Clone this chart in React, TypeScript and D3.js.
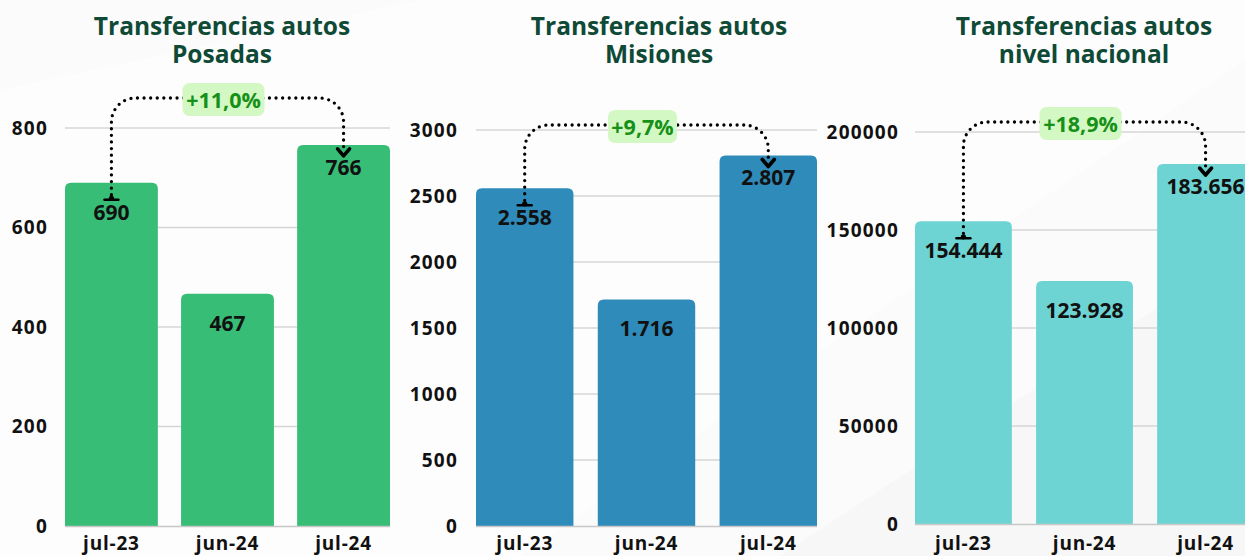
import * as d3 from "d3";

// data
const periods = ["jul-23", "jun-24", "jul-24"];
const posadas = [690, 467, 766];
const misiones = [2558, 1716, 2807];
const nacional = [154444, 123928, 183656];
const titles = [
  ["Transferencias autos", "Posadas"],
  ["Transferencias autos", "Misiones"],
  ["Transferencias autos", "nivel nacional"],
];
const posadasTicks = [0, 200, 400, 600, 800];
const misionesTicks = [0, 500, 1000, 1500, 2000, 2500, 3000];
const nacionalTicks = [0, 50000, 100000, 150000, 200000];

const W = 1245;
const H = 556;
const FONT = "'Open Sans', 'DejaVu Sans', sans-serif";

const loc = d3.formatLocale({ decimal: ",", thousands: ".", grouping: [3], currency: ["", ""] });
const fmt = loc.format(",");
const pct = loc.format("+.1f");

// layout of the three panels
const panels = [
  { values: posadas, ticks: posadasTicks, title: titles[0], color: "#37bd76", x0: 65, x1: 390, y0: 526, y1: 128, tickX: 48, titleX: 222, arrowY: 98 },
  { values: misiones, ticks: misionesTicks, title: titles[1], color: "#2e8bba", x0: 476, x1: 817, y0: 526, y1: 130, tickX: 458, titleX: 659, arrowY: 125 },
  { values: nacional, ticks: nacionalTicks, title: titles[2], color: "#6dd4d3", x0: 915, x1: 1254, y0: 524, y1: 132, tickX: 899, titleX: 1084, arrowY: 122 },
];

function barPath(x: number, y: number, w: number, h: number, r: number) {
  return `M${x},${y + h}V${y + r}Q${x},${y} ${x + r},${y}H${x + w - r}Q${x + w},${y} ${x + w},${y + r}V${y + h}Z`;
}

function Panel({ p }: { p: (typeof panels)[number] }) {
  const top = p.ticks[p.ticks.length - 1];
  const y = d3.scaleLinear().domain([0, top]).range([p.y0, p.y1]);
  const x = d3.scaleBand().domain(periods).range([p.x0, p.x1]).paddingInner(0.2).paddingOuter(0);
  const bw = x.bandwidth();

  const first = p.values[0];
  const last = p.values[p.values.length - 1];
  const xa = x(periods[0])! + bw / 2;
  const xb = x(periods[periods.length - 1])! + bw / 2;
  const startY = y(first) + 17;
  const tipY = y(last) + 11;
  const r = 24;
  const path = d3.path();
  path.moveTo(xa, startY - 5);
  path.lineTo(xa, p.arrowY + r);
  path.arcTo(xa, p.arrowY, xa + r, p.arrowY, r);
  path.lineTo(xb - r, p.arrowY);
  path.arcTo(xb, p.arrowY, xb, p.arrowY + r, r);
  path.lineTo(xb, tipY - 3);

  const change = pct((last / first - 1) * 100) + "%";
  const badgeW = change.length * 13 + 4;
  const badgeX = (xa + xb) / 2 - 4;

  return (
    <g>
      <text x={p.titleX} y={35} textAnchor="middle" fontFamily={FONT} fontWeight={700} fontSize={24.5} fill="#0e4a36">
        {p.title[0]}
      </text>
      <text x={p.titleX} y={63} textAnchor="middle" fontFamily={FONT} fontWeight={700} fontSize={24.5} fill="#0e4a36">
        {p.title[1]}
      </text>

      {p.ticks.map((t) => (
        <g key={t}>
          {t > 0 && <line x1={p.x0} x2={p.x1} y1={y(t)} y2={y(t)} stroke="#d6d6d6" strokeWidth={1.5} />}
          <text x={p.tickX} y={y(t)} dy="0.36em" textAnchor="end" fontFamily={FONT} fontWeight={700} fontSize={19} letterSpacing={1.2} fill="#111">
            {t}
          </text>
        </g>
      ))}

      {p.values.map((v, i) => (
        <path key={i} d={barPath(x(periods[i])!, y(v), bw, y(0) - y(v), 6)} fill={p.color} />
      ))}
      <line x1={p.x0} x2={p.x1} y1={y(0) + 0.5} y2={y(0) + 0.5} stroke="#c8c8c8" strokeWidth={1.5} />

      {p.values.map((v, i) => (
        <text
          key={i}
          x={x(periods[i])! + bw / 2}
          y={y(v) + (i === p.values.length - 1 ? 30 : 37)}
          textAnchor="middle"
          fontFamily={FONT}
          fontWeight={700}
          fontSize={21}
          fill="#111"
        >
          {fmt(v)}
        </text>
      ))}

      {periods.map((c) => (
        <text key={c} x={x(c)! + bw / 2} y={550} textAnchor="middle" fontFamily={FONT} fontWeight={700} fontSize={19} letterSpacing={0.8} fill="#111">
          {c}
        </text>
      ))}

      <path d={path.toString()} fill="none" stroke="#000" strokeWidth={3.3} strokeDasharray="0 6.6" strokeLinecap="round" />
      <line x1={xa - 7} x2={xa + 7} y1={startY} y2={startY} stroke="#000" strokeWidth={2.5} strokeLinecap="round" />
      <circle cx={xa} cy={startY - 1.5} r={2.6} fill="#000" />
      <polyline
        points={`${xb - 6},${tipY - 7} ${xb},${tipY} ${xb + 6},${tipY - 7}`}
        fill="none"
        stroke="#000"
        strokeWidth={3.6}
        strokeLinecap="round"
        strokeLinejoin="round"
      />

      <rect x={badgeX - badgeW / 2} y={p.arrowY - 15} width={badgeW} height={33} rx={7} fill="#d4f8c3" />
      <text x={badgeX} y={p.arrowY + 2} dy="0.36em" textAnchor="middle" fontFamily={FONT} fontWeight={700} fontSize={21.5} fill="#159018">
        {change}
      </text>
    </g>
  );
}

export default function App() {
  return (
    <div style={{ position: "fixed", left: 0, top: 0 }}>
      <svg width={W} height={H} style={{ display: "block" }}>
        <rect width={W} height={H} fill="#fbfbfb" />
        <polygon points="0,90 420,0 1245,0 1245,60 520,556 0,556" fill="#ffffff" opacity={0.6} />
        <polygon points="780,556 1245,250 1245,556" fill="#f7f7f7" />
        {panels.map((p, i) => (
          <Panel key={i} p={p} />
        ))}
      </svg>
    </div>
  );
}
